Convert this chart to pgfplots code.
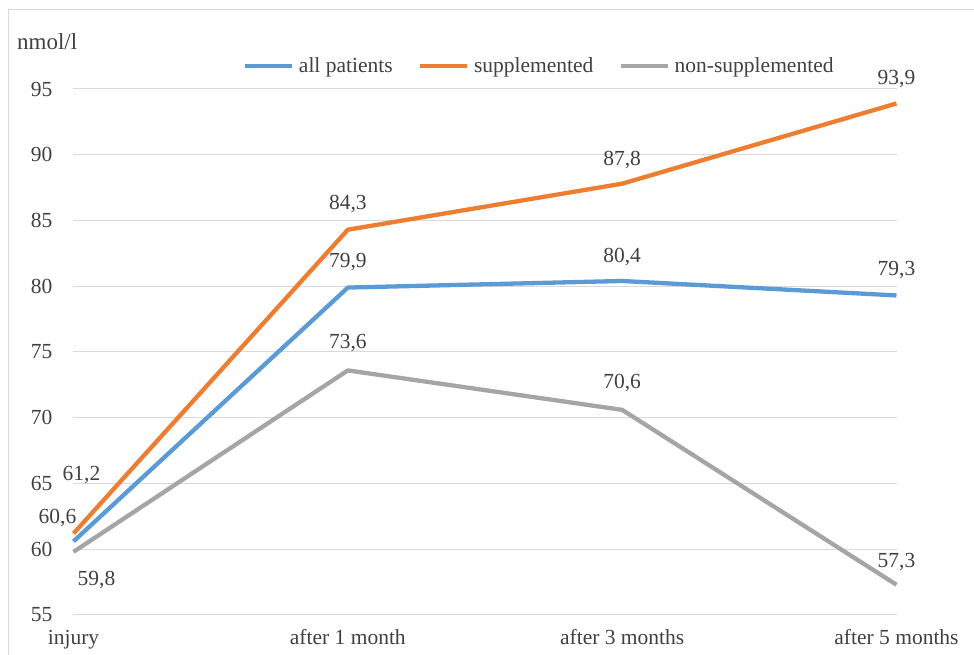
\documentclass[border=0pt]{standalone}
\usepackage{pgfplots}
\pgfplotsset{compat=1.18}
\usepackage{pgfplotstable}
\usetikzlibrary{calc}
\usepackage{fontspec}
\setmainfont{Liberation Serif}

\definecolor{serblue}{HTML}{5B9BD5}
\definecolor{serorange}{HTML}{ED7D31}
\definecolor{sergray}{HTML}{A5A5A5}
\definecolor{gridgray}{HTML}{D9D9D9}
\definecolor{txtgray}{HTML}{404040}

\newcommand{\chartfont}{\fontsize{21.5}{26}\selectfont}

% x: time point, y: mean level, dx/dy: label offset from the point
\pgfplotstableread{
x y dx dy
0 60.6 -16 23
1 79.9 0 26
2 80.4 0 24
3 79.3 0 25
}\allpatients

\pgfplotstableread{
x y dx dy
0 61.2 8 58
1 84.3 0 26
2 87.8 0 24
3 93.9 0 24
}\supplemented

\pgfplotstableread{
x y dx dy
0 59.8 23 -28
1 73.6 0 27
2 70.6 0 27
3 57.3 0 23
}\nonsupplemented

\begin{document}
\begin{tikzpicture}
\begin{axis}[
  name=ax,
  scale only axis, width=823pt, height=526pt,
  xmin=0, xmax=3, ymin=55, ymax=95,
  xtick={0,1,2,3},
  xticklabels={injury, after 1 month, after 3 months, after 5 months},
  ytick={55,60,...,95},
  /pgf/number format/assume math mode=true,
  axis line style={draw=none},
  major tick length=0pt,
  ymajorgrids,
  grid style={gridgray, line width=1pt},
  clip=false,
  tick label style={font=\chartfont, text=txtgray, inner sep=0pt},
  xticklabel style={anchor=base, yshift=-30pt},
  yticklabel style={anchor=east, xshift=-21pt},
  legend columns=3,
  legend style={at={(0.2053,1.0437)}, anchor=west, draw=none, fill=none,
    inner sep=0pt, font=\chartfont, text=txtgray,
    nodes={inner sep=0pt, anchor=west},
    /tikz/every odd column/.append style={column sep=5pt},
    /tikz/every even column/.append style={column sep=25pt}},
  legend image code/.code={\draw[#1] (0pt,0pt) -- (47pt,0pt);},
  every axis plot/.append style={line width=4.3pt, line join=round},
  nodes near coords={\pgfmathprintnumber[fixed,fixed zerofill,precision=1,use comma]{\pgfplotspointmeta}},
  every node near coord/.append style={anchor=center, font=\chartfont, text=txtgray,
    inner sep=0pt, xshift=\labeldx pt, yshift=\labeldy pt},
  point meta=y,
]
\addplot[serblue, visualization depends on={\thisrow{dx}\as\labeldx},
  visualization depends on={\thisrow{dy}\as\labeldy}]
  table[x=x, y=y] {\allpatients};
\addlegendentry{all patients}
\addplot[serorange, visualization depends on={\thisrow{dx}\as\labeldx},
  visualization depends on={\thisrow{dy}\as\labeldy}]
  table[x=x, y=y] {\supplemented};
\addlegendentry{supplemented}
\addplot[sergray, visualization depends on={\thisrow{dx}\as\labeldx},
  visualization depends on={\thisrow{dy}\as\labeldy}]
  table[x=x, y=y] {\nonsupplemented};
\addlegendentry{non-supplemented}
\end{axis}
% page frame, measured from the lower left corner of the plot area
\begin{scope}[shift={($(ax.south west)+(-73.5pt,-40pt)$)}, x=1pt, y=1pt]
\pgfresetboundingbox
\useasboundingbox (0,0) rectangle (974,655);
\draw[gridgray, line width=1pt] (9,0) -- (9,645) -- (974,645);
\node[anchor=base west, inner sep=0pt, font=\fontsize{23}{27}\selectfont, text=txtgray] at (17,605) {nmol/l};
\end{scope}
\end{tikzpicture}
\end{document}
